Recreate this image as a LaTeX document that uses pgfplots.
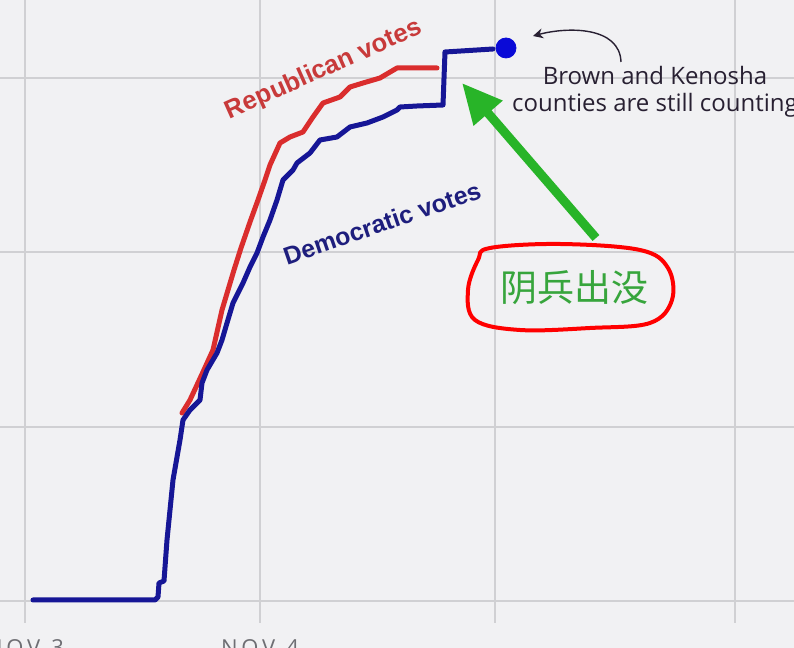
\documentclass[border=0pt]{standalone}
\usepackage{pgfplots}
\pgfplotsset{compat=1.18}
\usepackage{fontspec}
\setmainfont{Liberation Sans}
\newfontfamily\annfont{Open Sans}
\newfontfamily\cjk{Noto Sans CJK SC}
\usetikzlibrary{arrows.meta}
\definecolor{bg}{RGB}{241,241,243}
\definecolor{gridc}{RGB}{208,208,211}
\definecolor{demblue}{RGB}{22,22,150}
\definecolor{repred}{RGB}{218,45,45}
\definecolor{reptext}{RGB}{200,58,58}
\definecolor{demtext}{RGB}{30,30,125}
\definecolor{dotblue}{RGB}{10,10,215}
\definecolor{anntext}{RGB}{40,32,50}
\definecolor{arrgreen}{RGB}{40,180,40}
\definecolor{cjkgreen}{RGB}{55,165,60}
\definecolor{ticklab}{RGB}{110,110,115}
\begin{document}
\begin{tikzpicture}
\useasboundingbox (0,-12.5pt) rectangle (397pt,311.5pt);
\clip (0,-12.5pt) rectangle (397pt,311.5pt);
\fill[bg] (0,-12.5pt) rectangle (397pt,311.5pt);
\begin{axis}[
  at={(0,0)}, anchor=south west,
  scale only axis, width=397pt, height=311.5pt,
  xmin=0, xmax=794, ymin=25, ymax=648,
  axis line style={draw=none},
  tick style={draw=none},
  xtick={25,260,495,735}, ytick={47,221,396,570},
  xmajorgrids, ymajorgrids,
  major grid style={gridc, line width=0.6pt},
  xticklabels={N\,O\,V\enspace 3, N\,O\,V\enspace 4, , },
  yticklabels={},
  xticklabel style={font=\annfont\fontsize{11}{13}\selectfont, text=ticklab, yshift=-4.5pt},
  clip=false,
]
\addplot[repred, line width=2.5pt, line join=round, line cap=round] coordinates {
(182,235)(190,248)(203,276)(213,298)(222,338)(228,358)(234,378)(241,400)(250,426)(258,448)(265,468)(270,483)(280,505)(290,511)(303,516)(313,531)(323,545)(340,551)(350,561)(363,565)(380,570)(397,580)(437,580)
};
\addplot[demblue, line width=2.5pt, line join=round, line cap=round] coordinates {
(33,48)(155,48)(158,51)(159,65)(164,67)(167,108)(173,168)(180,208)(183,228)(190,238)(200,248)(202,265)(207,278)(217,295)(222,308)(227,325)(233,345)(243,365)(250,381)(257,395)(263,411)(270,428)(277,448)(283,468)(293,478)(297,485)(310,495)(320,508)(337,511)(350,521)(367,525)(383,531)(397,538)(400,541)(417,542)(443,543)(445,596)(493,599)
};
\addplot[only marks, mark=*, mark size=5pt, color=dotblue] coordinates {(506,600)};

\node[rotate=24, text=reptext, font=\bfseries\fontsize{12.8}{14}\selectfont] at (axis cs:324,578) {Republican votes};
\node[rotate=19, text=demtext, font=\bfseries\fontsize{12.4}{14}\selectfont] at (axis cs:382,425) {Democratic votes};
\node[align=center, text=anntext, font=\annfont\fontsize{12}{13.5}\selectfont] at (axis cs:655,556) {Brown and Kenosha\\counties are still counting};
\draw[anntext, line width=0.7pt, -{Stealth[length=5pt,width=5pt]}] (axis cs:621,586) to[out=92, in=15] (axis cs:533,612);
\draw[arrgreen, line width=4.5pt, -{Triangle[length=20pt,width=18pt]}] (axis cs:596,410) -- (axis cs:462,565);
\draw[red, line width=2pt] plot[smooth cycle, tension=0.6] coordinates {
(axis cs:490,400) (axis cs:560,404) (axis cs:640,398) (axis cs:668,380) (axis cs:672,348) (axis cs:650,325) (axis cs:590,320) (axis cs:520,318) (axis cs:475,328) (axis cs:468,358) (axis cs:478,388)};
\node[text=cjkgreen, font=\cjk\fontsize{18.5}{20}\selectfont] at (axis cs:575,360) {阴兵出没};
\end{axis}
\end{tikzpicture}
\end{document}
